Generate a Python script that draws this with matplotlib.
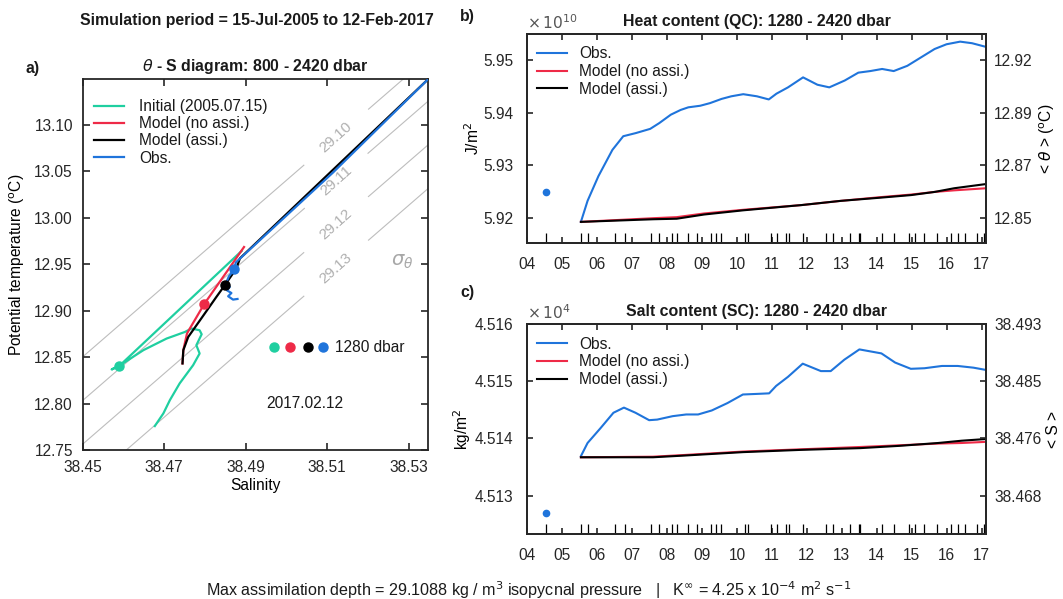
import numpy as np
import matplotlib
matplotlib.use("Agg")
import matplotlib.pyplot as plt

plt.rcParams['font.family'] = ['Liberation Sans', 'DejaVu Sans']
plt.rcParams['mathtext.fontset'] = 'dejavusans'
plt.rcParams['axes.edgecolor'] = '#262626'
plt.rcParams['xtick.color'] = '#262626'
plt.rcParams['ytick.color'] = '#262626'
plt.rcParams['text.color'] = '#1a1a1a'

C_INIT = '#1fcfa0'
C_NOASSI = '#ee2a47'
C_ASSI = '#000000'
C_OBS = '#1f74db'
C_GRID = '#bdbdbd'

# ---------------- panel a: theta-S ----------------
obs_S = [38.5346, 38.5114, 38.4876, 38.4872, 38.4859, 38.4853, 38.4861, 38.4854, 38.4865, 38.4857, 38.4869, 38.4880]
obs_T = [13.1483, 13.0485, 12.9520, 12.9445, 12.9370, 12.9309, 12.9255, 12.9219, 12.9190, 12.9155, 12.9119, 12.9126]

assi_S = [38.5346, 38.4886, 38.4877, 38.4850, 38.4828, 38.4788, 38.4759, 38.4747, 38.4745]
assi_T = [13.1483, 12.9563, 12.9453, 12.9281, 12.9147, 12.8897, 12.8717, 12.8575, 12.8432]

noassi_S = [38.4896, 38.4798, 38.4763, 38.4756, 38.4747, 38.4745]
noassi_T = [12.9685, 12.9069, 12.8808, 12.8754, 12.8575, 12.8432]

init_S = [38.4890, 38.4590, 38.4571, 38.4596, 38.4649, 38.4706, 38.4722, 38.4751, 38.4767, 38.4787,
          38.4792, 38.4779, 38.4787, 38.4771, 38.4738, 38.4714, 38.4698, 38.4677]
init_T = [12.9642, 12.8406, 12.8367, 12.8424, 12.8575, 12.8700, 12.8725, 12.8771, 12.8808, 12.8789,
          12.8746, 12.8628, 12.8539, 12.8413, 12.8217, 12.8037, 12.7894, 12.7758]

# 1280 dbar points (init, no assi, assi, obs)
dot_S = [38.4590, 38.4798, 38.4850, 38.4872]
dot_T = [12.8406, 12.9069, 12.9281, 12.9445]

# isopycnals (linear fit of sigma_theta)
sig_levels = [29.10, 29.11, 29.12, 29.13]
sig_ref, S_ref, T_ref = 29.10, 38.4665, 12.913
beta, alpha = 0.8085, 0.2128
sig_label_pos = [(38.5124, 13.0859), (38.5124, 13.0389), (38.5124, 12.9919), (38.5124, 12.9449)]

# ---------------- panels b, c: time series ----------------
years = list(range(4, 18))
year_labels = ['%02d' % y for y in years]

obs_dates = [4.54, 5.53, 5.75, 6.52, 6.80, 7.55, 7.78, 8.13, 8.30, 8.59, 8.85, 9.26, 9.40, 9.53,
             10.24, 10.32, 10.96, 11.14, 11.41, 11.49, 11.89, 12.54, 12.74, 13.24, 13.48, 13.52,
             14.15, 14.50, 14.93, 15.10, 15.36, 15.71, 16.11, 16.32, 16.53, 16.87, 17.05]

qc_obs_t = [5.54, 5.73, 6.04, 6.44, 6.75, 7.11, 7.52, 7.78, 8.11, 8.39, 8.61, 8.95, 9.23, 9.56, 9.84,
            10.18, 10.57, 10.91, 11.13, 11.46, 11.89, 12.30, 12.64, 13.08, 13.47, 13.81, 14.15, 14.48,
            14.87, 15.26, 15.65, 15.99, 16.38, 16.72, 17.12]
qc_obs = [5.9192, 5.9232, 5.9279, 5.9329, 5.9355, 5.9361, 5.9369, 5.9380, 5.9396, 5.9405, 5.9410,
          5.9413, 5.9418, 5.9426, 5.9431, 5.9435, 5.9431, 5.9425, 5.9436, 5.9448, 5.9467, 5.9453,
          5.9448, 5.9461, 5.9476, 5.9479, 5.9483, 5.9479, 5.9489, 5.9505, 5.9521, 5.9530, 5.9535,
          5.9532, 5.9525]
qc_model_t = [5.54, 7.61, 8.28, 9.06, 10.18, 11.85, 12.97, 14.09, 14.98, 15.65, 16.21, 17.12]
qc_assi = [5.9192, 5.9197, 5.9198, 5.9206, 5.9214, 5.9224, 5.9232, 5.9238, 5.9243, 5.9249, 5.9256, 5.9264]
qc_noassi = [5.9192, 5.9199, 5.9201, 5.9208, 5.9215, 5.9224, 5.9232, 5.9239, 5.9244, 5.9249, 5.9252, 5.9256]
qc_first = (4.54, 5.9249)
qc_ticks = [5.92, 5.93, 5.94, 5.95]
qc_right = ['12.85', '12.87', '12.89', '12.92']

sc_obs_t = [5.54, 5.73, 6.10, 6.47, 6.77, 7.10, 7.49, 7.72, 8.16, 8.55, 8.89, 9.28, 9.73, 10.17, 10.56,
            10.92, 11.12, 11.46, 11.88, 12.40, 12.68, 13.07, 13.50, 14.13, 14.52, 14.97, 15.36, 15.86,
            16.31, 16.76, 17.12]
sc_obs = [4.51369, 4.51392, 4.51418, 4.51445, 4.51454, 4.51445, 4.51432, 4.51433, 4.51439, 4.51442,
          4.51442, 4.51449, 4.51462, 4.51477, 4.51478, 4.51479, 4.51492, 4.51508, 4.51531, 4.51518,
          4.51518, 4.51538, 4.51556, 4.51549, 4.51533, 4.51522, 4.51523, 4.51527, 4.51527, 4.51524,
          4.51520]
sc_model_t = [5.54, 7.60, 8.50, 10.17, 11.85, 13.52, 14.64, 15.75, 16.42, 17.12]
sc_assi = [4.51367, 4.51367, 4.51370, 4.51376, 4.51380, 4.51383, 4.51387, 4.51392, 4.51396, 4.51399]
sc_noassi = [4.51367, 4.51368, 4.51371, 4.51377, 4.51381, 4.51385, 4.51388, 4.51391, 4.51392, 4.51394]
sc_first = (4.55, 4.51269)
sc_ticks = [4.513, 4.514, 4.515, 4.516]
sc_right = ['38.468', '38.476', '38.485', '38.493']

FS = 11.2
TFS = 11.4

fig = plt.figure(figsize=(10.63, 5.99), dpi=100)
ax_a = fig.add_axes([0.0778, 0.2487, 0.3246, 0.6189])
ax_b = fig.add_axes([0.4958, 0.5938, 0.4318, 0.3494])
ax_c = fig.add_axes([0.4958, 0.108, 0.4318, 0.3506])

# ---- a ----
Sg, Tg = np.meshgrid(np.linspace(38.44, 38.55, 300), np.linspace(12.70, 13.20, 300))
sig = sig_ref + beta * (Sg - S_ref) - alpha * (Tg - T_ref)
cs = ax_a.contour(Sg, Tg, sig, levels=sig_levels, colors=C_GRID, linewidths=0.8, zorder=1)
ax_a.clabel(cs, manual=sig_label_pos, inline=True, fmt='%.2f', fontsize=11,
            colors='#b0b0b0', inline_spacing=14)
ax_a.text(38.5285, 12.952, r'$\sigma_\theta$', color='#a8a8a8', fontsize=14, ha='center', va='center')

ax_a.plot(init_S, init_T, color=C_INIT, lw=1.6, label='Initial (2005.07.15)', zorder=3)
ax_a.plot(noassi_S, noassi_T, color=C_NOASSI, lw=1.6, label='Model (no assi.)', zorder=3)
ax_a.plot(assi_S, assi_T, color=C_ASSI, lw=1.6, label='Model (assi.)', zorder=4)
ax_a.plot(obs_S, obs_T, color=C_OBS, lw=1.6, label='Obs.', zorder=5)
for s, t, c in zip(dot_S, dot_T, [C_INIT, C_NOASSI, C_ASSI, C_OBS]):
    ax_a.plot(s, t, 'o', color=c, ms=6.5, zorder=6)

row_S = [38.4970, 38.5009, 38.5052, 38.5090]
for s, c in zip(row_S, [C_INIT, C_NOASSI, C_ASSI, C_OBS]):
    ax_a.plot(s, 12.8607, 'o', color=c, ms=6.5)
ax_a.text(38.5120, 12.8607, '1280 dbar', fontsize=FS, va='center', ha='left')
ax_a.text(38.5046, 12.8005, '2017.02.12', fontsize=FS, va='center', ha='center')

ax_a.set_xlim(38.45, 38.5347)
ax_a.set_ylim(12.75, 13.149)
ax_a.set_xticks([38.45, 38.47, 38.49, 38.51, 38.53])
ax_a.set_xticklabels(['38.45', '38.47', '38.49', '38.51', '38.53'])
ax_a.set_yticks([12.75, 12.80, 12.85, 12.90, 12.95, 13.00, 13.05, 13.10])
ax_a.set_yticklabels(['%.2f' % v for v in [12.75, 12.80, 12.85, 12.90, 12.95, 13.00, 13.05, 13.10]])
ax_a.tick_params(direction='in', top=True, right=True, length=5, width=1.2, labelsize=FS)
ax_a.tick_params(axis='x', pad=7)
ax_a.tick_params(axis='y', pad=7)
ax_a.set_xlabel('Salinity', fontsize=FS, labelpad=2)
ax_a.set_ylabel(r'Potential temperature ($^{\rm o}$C)', fontsize=FS, labelpad=5)
ax_a.set_title(r'$\theta$ - S diagram: 800 - 2420 dbar', fontsize=TFS, fontweight='bold', pad=6)
ax_a.legend(loc='upper left', frameon=False, fontsize=FS, handlelength=1.9,
            handletextpad=1.0, labelspacing=0.14, borderaxespad=0.35, bbox_to_anchor=(0.0, 0.978))


def series_axes(ax, t_obs, v_obs, t_mod, v_noassi, v_assi, first, ticks, right_labels,
                ylim, ylabel, rlabel, title, expo, tickfmt):
    ax.plot(t_obs, v_obs, color=C_OBS, lw=1.5, label='Obs.')
    ax.plot(t_mod, v_noassi, color=C_NOASSI, lw=1.5, label='Model (no assi.)')
    ax.plot(t_mod, v_assi, color=C_ASSI, lw=1.5, label='Model (assi.)')
    ax.plot(first[0], first[1], 'o', color=C_OBS, ms=4.5)
    ax.vlines(obs_dates, 0, 0.05, transform=ax.get_xaxis_transform(), color='k', lw=0.9)
    ax.set_xlim(4, 17.12)
    ax.set_ylim(*ylim)
    ax.set_xticks(years)
    ax.set_xticklabels(year_labels)
    ax.set_yticks(ticks)
    ax.set_yticklabels([tickfmt % v for v in ticks])
    ax.tick_params(direction='in', top=True, length=4, width=1.2, labelsize=FS)
    ax.tick_params(axis='x', pad=10)
    ax.tick_params(axis='y', pad=10)
    ax.set_ylabel(ylabel, fontsize=FS, labelpad=1)
    ax.set_title(title, fontsize=TFS, fontweight='bold', pad=6)
    ax.text(0.0, 1.01, expo, transform=ax.transAxes, fontsize=FS, color='#555555',
            ha='left', va='bottom')
    ax.legend(loc='upper left', frameon=False, fontsize=FS, handlelength=1.9,
              handletextpad=0.8, labelspacing=0.18, borderaxespad=0.25, bbox_to_anchor=(0.0, 0.99))
    ax2 = ax.twinx()
    ax2.set_ylim(*ylim)
    ax2.set_yticks(ticks)
    ax2.set_yticklabels(right_labels)
    ax2.tick_params(direction='in', length=4, width=1.2, labelsize=FS, pad=6)
    ax2.set_ylabel(rlabel, fontsize=FS, labelpad=3)
    for a in (ax, ax2):
        for sp in a.spines.values():
            sp.set_linewidth(1.3)
    return ax2


series_axes(ax_b, qc_obs_t, qc_obs, qc_model_t, qc_noassi, qc_assi, qc_first, qc_ticks, qc_right,
            (5.91512, 5.95495), r'J/m$^2$', r'< $\theta$ > ($^{\rm o}$C)',
            'Heat content (QC): 1280 - 2420 dbar', r'$\times\,10^{10}$', '%.2f')
series_axes(ax_c, sc_obs_t, sc_obs, sc_model_t, sc_noassi, sc_assi, sc_first, sc_ticks, sc_right,
            (4.51232, 4.516), r'kg/m$^2$', '< S >',
            'Salt content (SC): 1280 - 2420 dbar', r'$\times\,10^{4}$', '%.3f')
for sp in ax_a.spines.values():
    sp.set_linewidth(1.3)

fig.text(257 / 1063, 1 - 20 / 599, 'Simulation period = 15-Jul-2005 to 12-Feb-2017',
         fontsize=TFS, fontweight='bold', ha='center', va='center')
fig.text(25 / 1063, 1 - 69 / 599, 'a)', fontsize=TFS, fontweight='bold', ha='left', va='center')
fig.text(460 / 1063, 1 - 17 / 599, 'b)', fontsize=TFS, fontweight='bold', ha='left', va='center')
fig.text(460 / 1063, 1 - 293 / 599, 'c)', fontsize=TFS, fontweight='bold', ha='left', va='center')
fig.text(529 / 1063, 1 - 590 / 599,
         r'Max assimilation depth = 29.1088 kg / m$^3$ isopycnal pressure   |   '
         r'K$^{\infty}$ = 4.25 x 10$^{-4}$ m$^2$ s$^{-1}$',
         fontsize=11.6, ha='center', va='center')

fig.savefig('out.png', dpi=100)
